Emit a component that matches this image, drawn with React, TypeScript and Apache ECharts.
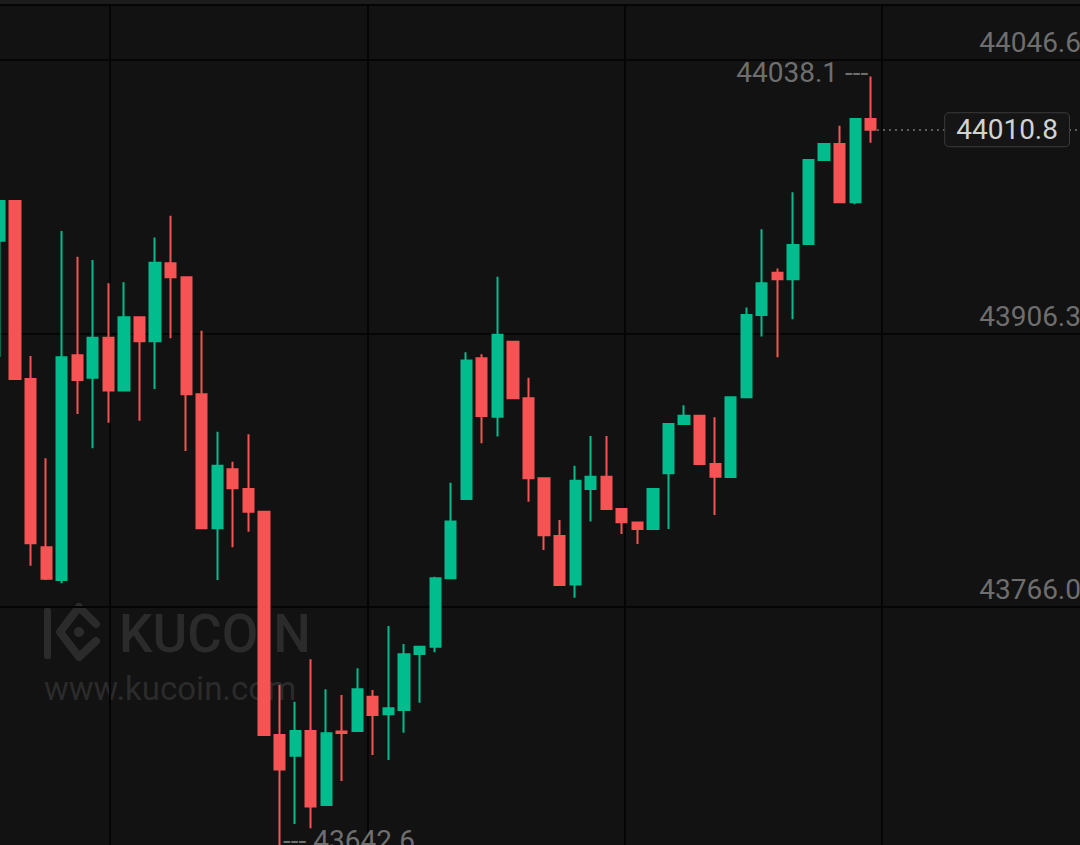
import React, { useEffect, useRef } from "react";
import * as echarts from "echarts";

// OHLC values (one candle per slot, oldest first)
const opens = [
  43953.9, 43974.3, 43883.0, 43796.6, 43779.9, 43895.1, 43883.6, 43904.1, 43877.0, 43914.6,
  43902.3, 43942.3, 43935.1, 43875.1, 43806.4, 43836.6, 43826.5, 43814.9, 43700.3, 43689.7,
  43702.4, 43664.4, 43702.1, 43702.4, 43720.0, 43711.0, 43713.2, 43741.9, 43745.6, 43780.7,
  43821.4, 43893.6, 43863.6, 43902.1, 43873.1, 43832.0, 43802.4, 43777.6, 43826.5, 43832.8,
  43816.3, 43809.3, 43806.0, 43834.6, 43859.9, 43864.1, 43839.4, 43832.7, 43873.6, 43915.8,
  43937.5, 43934.1, 43952.2, 43995.3, 44003.5, 43973.6, 44016.3,
];
const closes = [
  43974.3, 43883.0, 43798.7, 43780.5, 43894.1, 43882.4, 43904.1, 43877.0, 43914.6, 43902.3,
  43942.6, 43935.1, 43875.1, 43806.4, 43838.5, 43826.9, 43814.9, 43700.3, 43682.7, 43702.4,
  43663.6, 43701.2, 43701.4, 43723.8, 43710.6, 43714.0, 43741.7, 43745.6, 43780.7, 43809.8,
  43892.4, 43864.0, 43905.7, 43873.1, 43832.0, 43802.8, 43777.3, 43830.8, 43832.8, 43816.3,
  43809.5, 43806.0, 43826.5, 43859.9, 43864.1, 43839.4, 43832.8, 43873.6, 43915.8, 43932.1,
  43934.1, 43951.7, 43995.3, 44003.5, 43973.6, 44016.3, 44010.8,
];
const lows = [
  43894.2, 43883.0, 43787.2, 43779.9, 43778.2, 43865.0, 43847.4, 43860.5, 43876.5, 43861.6,
  43877.8, 43903.8, 43846.0, 43806.4, 43779.9, 43796.6, 43804.6, 43700.3, 43642.6, 43654.7,
  43652.5, 43664.4, 43676.7, 43702.4, 43690.1, 43687.5, 43701.5, 43716.9, 43742.8, 43780.7,
  43821.4, 43850.0, 43853.4, 43873.1, 43820.0, 43795.2, 43777.3, 43770.8, 43809.8, 43816.3,
  43803.4, 43798.3, 43806.0, 43806.0, 43859.9, 43839.4, 43813.2, 43832.7, 43873.6, 43904.7,
  43894.1, 43913.6, 43952.2, 43995.3, 43973.6, 43972.6, 44004.2,
];
const highs = [
  43974.3, 43974.3, 43894.8, 43842.3, 43958.9, 43945.7, 43944.0, 43932.1, 43932.6, 43914.6,
  43955.6, 43966.7, 43935.1, 43907.7, 43855.9, 43840.5, 43854.6, 43814.9, 43726.0, 43717.4,
  43739.2, 43723.8, 43720.9, 43734.6, 43723.4, 43756.3, 43747.0, 43745.6, 43781.5, 43829.8,
  43896.7, 43895.6, 43935.4, 43902.1, 43883.6, 43832.0, 43810.6, 43838.5, 43853.7, 43853.7,
  43816.3, 43809.3, 43826.5, 43859.9, 43869.5, 43864.1, 43863.3, 43873.6, 43919.7, 43959.8,
  43939.7, 43978.7, 43995.7, 44003.5, 44012.9, 44016.3, 44038.1,
];
// price-scale tick labels
const yTicks = [43766.0, 43906.3, 44046.6];

const UP = "#01bc8d";
const DOWN = "#f65454";
const GRID = "#050505";
const LABEL = "#6e6e6e";
const WM = "#2b2b2b";
const FONT = "Roboto";
const FS = 28;

export default function App() {
  const ref = useRef<HTMLDivElement>(null);

  useEffect(() => {
    document.body.style.margin = "0";
    const chart = echarts.init(ref.current!, null, { renderer: "svg" });
    const step = yTicks[1] - yTicks[0];
    const yMin = +(yTicks[0] - step).toFixed(1);
    const yMax = +(yTicks[yTicks.length - 1] + step).toFixed(1);
    const data = opens.map((o, i) => [i, o, closes[i], lows[i], highs[i]]);
    const last = closes.length - 1;
    const lastPrice = closes[last];
    const xMin = 0.032;
    const xMax = 69.45;

    chart.setOption({
      animation: false,
      backgroundColor: "#121212",
      grid: {
        left: 0,
        right: 0,
        top: -213.5,
        bottom: -35.5,
        containLabel: false,
        outerBoundsMode: "none",
      },
      xAxis: [
        { type: "value", min: xMin, max: xMax, show: false },
        {
          type: "value",
          min: -0.4274,
          max: 3.7685,
          minInterval: 1,
          maxInterval: 1,
          axisLine: { show: false },
          axisTick: { show: false },
          axisLabel: { show: false },
          splitLine: {
            show: true,
            showMinLine: false,
            showMaxLine: false,
            lineStyle: { color: GRID, width: 2 },
          },
        },
      ],
      yAxis: {
        type: "value",
        position: "right",
        min: yMin,
        max: yMax,
        interval: step,
        axisLine: { show: false },
        axisTick: { show: false },
        splitLine: { show: true, lineStyle: { color: GRID, width: 2 } },
        axisLabel: {
          inside: true,
          margin: -1,
          verticalAlign: "bottom",
          lineHeight: 35,
          fontSize: FS,
          color: LABEL,
          fontFamily: FONT,
          showMinLabel: false,
          showMaxLabel: false,
          formatter: (v: number) => v.toFixed(1),
        },
      },
      graphic: [
        { type: "rect", z: 100, shape: { x: 0, y: 0, width: 1080, height: 4 }, style: { fill: "#1c1c1c" } },
        { type: "rect", z: 100, shape: { x: 0, y: 4, width: 1080, height: 2 }, style: { fill: "#050505" } },
        { type: "rect", z: -10, shape: { x: 44, y: 608, width: 7, height: 51, r: 2 }, style: { fill: WM } },
        {
          type: "polyline",
          z: -10,
          shape: { points: [[96, 624], [79, 607], [60, 632], [79, 657], [96, 641]] },
          style: { stroke: WM, lineWidth: 8, fill: null, lineJoin: "round", lineCap: "round" },
        },
        { type: "circle", z: -10, shape: { cx: 79, cy: 632, r: 5 }, style: { fill: WM } },
        {
          type: "text",
          z: -10,
          x: 119,
          y: 634,
          style: { text: "KUCOIN", fontSize: 53, fontWeight: 500, fontFamily: FONT, fill: WM, textVerticalAlign: "middle" },
        },
        {
          type: "text",
          z: -10,
          x: 44,
          y: 688,
          style: { text: "www.kucoin.com", fontSize: 33, fontFamily: FONT, fill: WM, textVerticalAlign: "middle" },
        },
      ],
      series: [
        {
          type: "candlestick",
          xAxisIndex: 0,
          data,
          barWidth: 10.7,
          itemStyle: {
            color: UP,
            color0: DOWN,
            borderColor: UP,
            borderColor0: DOWN,
            borderWidth: 2,
          },
          markPoint: {
            symbol: "circle",
            symbolSize: 1,
            itemStyle: { color: "rgba(0,0,0,0)" },
            silent: true,
            data: [
              {
                type: "max",
                valueDim: "highest",
                label: {
                  show: true,
                  position: "left",
                  distance: 2,
                  offset: [0, -4],
                  fontSize: FS,
                  fontFamily: FONT,
                  color: LABEL,
                  formatter: (p: any) => `${Number(p.value).toFixed(1)} ---`,
                },
              },
              {
                type: "min",
                valueDim: "lowest",
                label: {
                  show: true,
                  position: "right",
                  distance: 3,
                  offset: [0, -7],
                  fontSize: FS,
                  fontFamily: FONT,
                  color: LABEL,
                  formatter: (p: any) => `--- ${Number(p.value).toFixed(1)}`,
                },
              },
            ],
          },
          markLine: {
            silent: true,
            symbol: ["none", "none"],
            lineStyle: { type: [2, 4], color: "#5e5e5e", width: 2 },
            label: {
              show: true,
              position: "insideEnd",
              distance: [11, 0],
              fontSize: FS,
              lineHeight: 27,
              fontFamily: FONT,
              color: "#d2d2d2",
              backgroundColor: "#151515",
              borderColor: "#3b3b3b",
              borderWidth: 1,
              borderRadius: 4,
              padding: [3, 11, 3, 11],
              formatter: () => lastPrice.toFixed(1),
            },
            data: [[{ coord: [last + 0.4, lastPrice] }, { coord: [xMax, lastPrice] }]],
          },
        },
      ],
    });

    return () => chart.dispose();
  }, []);

  return (
    <div
      ref={ref}
      style={{ width: 1080, height: 845, background: "#121212", position: "absolute", left: 0, top: 0, overflow: "hidden" }}
    />
  );
}
